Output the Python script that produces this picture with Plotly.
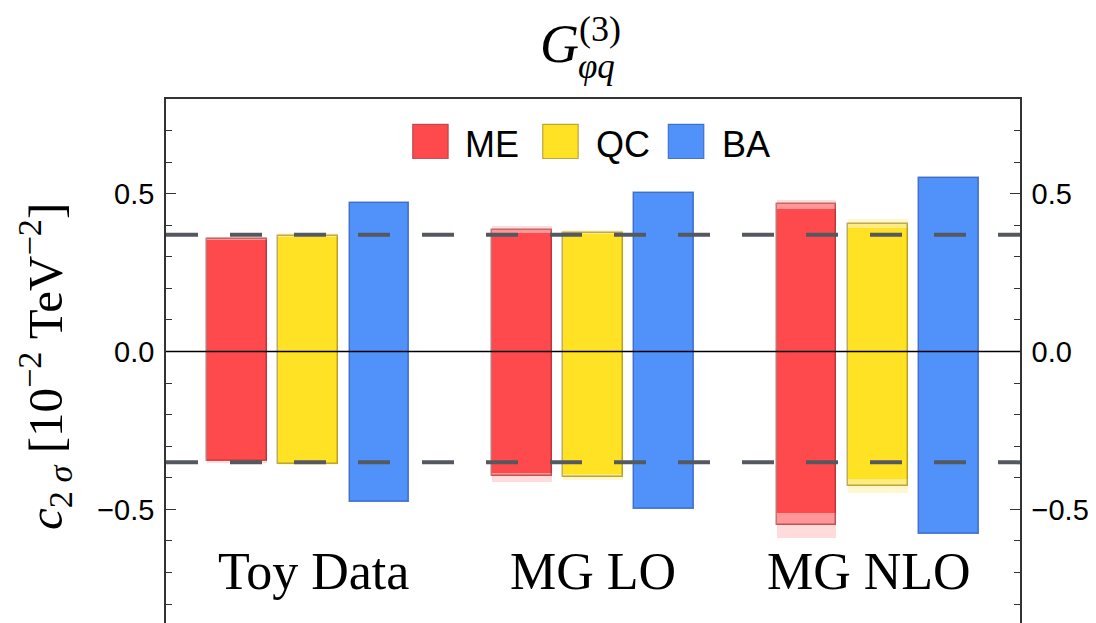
import plotly.graph_objects as go

# ---------------- data ----------------
categories = ["Toy Data", "MG LO", "MG NLO"]
methods = ["ME", "QC", "BA"]

# ME (red): inner / middle (outlined) / outer ranges
me_inner_hi = [0.352, 0.375, 0.453]
me_mid_hi   = [0.356, 0.385, 0.467]
me_outer_hi = [0.363, 0.398, 0.479]
me_inner_lo = [-0.345, -0.385, -0.510]
me_mid_lo   = [-0.348, -0.393, -0.549]
me_outer_lo = [-0.352, -0.412, -0.590]

# QC (yellow)
qc_inner_hi = [0.362, 0.372, 0.390]
qc_mid_hi   = [0.365, 0.377, 0.403]
qc_outer_hi = [0.374, 0.384, 0.421]
qc_inner_lo = [-0.352, -0.387, -0.403]
qc_mid_lo   = [-0.355, -0.398, -0.425]
qc_outer_lo = [-0.358, -0.406, -0.447]

# BA (blue)
ba_hi = [0.472, 0.502, 0.551]
ba_lo = [-0.477, -0.498, -0.578]

# reference (dashed) bounds
ref_hi = 0.370
ref_lo = -0.351

y_ticks = [-0.5, 0.0, 0.5]

# ---------------- styling ----------------
# the page body adds an 8px offset; figure is sized to fill the remaining window
OFF = 8
W, H = 1096 - OFF, 623 - OFF
# plot area in screen pixels
SL, SR, ST, SB = 166, 1020, 99, 623
PL, PR, PT, PB = SL - OFF, SR - OFF, ST - OFF, SB - OFF
def xp(sx): return (sx - SL) / (SR - SL)
def yp(sy): return (SB - sy) / (SB - ST)

offsets = {"ME": -0.25, "QC": 0.0, "BA": 0.25}
BW = 0.21

red = dict(full="rgb(255,74,77)", mid="rgb(255,150,152)", light="rgb(255,219,219)", edge="rgba(160,45,45,0.65)")
yel = dict(full="rgb(255,226,36)", mid="rgb(255,236,128)", light="rgb(255,247,205)", edge="rgba(150,128,25,0.65)")
blu = dict(full="rgb(80,145,250)", edge="rgba(40,90,185,0.75)")

fig = go.Figure()

def bar(xs, lo, hi, color, line_color=None, lw=0, yaxis="y"):
    fig.add_trace(go.Bar(
        x=xs, y=[h - l for h, l in zip(hi, lo)], base=lo, width=BW, yaxis=yaxis,
        marker=dict(color=color, line=dict(color=line_color or "rgba(0,0,0,0)", width=lw)),
        showlegend=False, hoverinfo="skip"))

idx = list(range(len(categories)))
for m, c, (ilo, ihi, mlo, mhi, olo, ohi) in [
        ("ME", red, (me_inner_lo, me_inner_hi, me_mid_lo, me_mid_hi, me_outer_lo, me_outer_hi)),
        ("QC", yel, (qc_inner_lo, qc_inner_hi, qc_mid_lo, qc_mid_hi, qc_outer_lo, qc_outer_hi))]:
    xs = [i + offsets[m] for i in idx]
    bar(xs, olo, ohi, c["light"])
    bar(xs, mlo, mhi, c["mid"])
    bar(xs, ilo, ihi, c["full"])
    bar(xs, mlo, mhi, "rgba(0,0,0,0)", c["edge"], 1.5)

xs = [i + offsets["BA"] for i in idx]
bar(xs, ba_lo, ba_hi, blu["full"], blu["edge"], 1.5, yaxis="y2")

shapes = []
for yv in (ref_hi, ref_lo):
    shapes.append(dict(type="line", xref="paper", yref="y", x0=0, x1=1, y0=yv, y1=yv,
                       line=dict(color="#54595f", width=4, dash="32px,32px"), layer="above"))
shapes.append(dict(type="line", xref="paper", yref="y", x0=0, x1=1, y0=0, y1=0,
                   line=dict(color="black", width=1.5), layer="above"))

annotations = []
# legend
leg = [("ME", red, 412.7, 463), ("QC", yel, 542.7, 593.5), ("BA", blu, 668.3, 719.5)]
for name, c, sx, tx in leg:
    shapes.append(dict(type="rect", xref="paper", yref="paper",
                       x0=xp(sx), x1=xp(sx + 35.5), y0=yp(158.5), y1=yp(124.3),
                       fillcolor=c["full"], line=dict(color=c["edge"], width=1.2), layer="above"))
    annotations.append(dict(text=name, xref="paper", yref="paper", x=xp(tx), y=yp(144),
                            xanchor="left", yanchor="middle", showarrow=False,
                            font=dict(family="Liberation Sans", size=36, color="black")))

# category labels
label_shift = [5, 0, -9]
for i, cat in enumerate(categories):
    annotations.append(dict(text=cat, xref="x", yref="paper", x=i, y=yp(571), xshift=label_shift[i],
                            xanchor="center", yanchor="middle", showarrow=False,
                            font=dict(family="Liberation Serif", size=52, color="black")))

# title G^{(3)}_{phi q}
annotations.append(dict(text="<i>G</i>", xref="paper", yref="paper", x=xp(538), y=yp(44),
                        xanchor="left", yanchor="middle", showarrow=False,
                        font=dict(family="Liberation Serif", size=54, color="black")))
annotations.append(dict(text="(3)", xref="paper", yref="paper", x=xp(577), y=yp(29),
                        xanchor="left", yanchor="middle", showarrow=False,
                        font=dict(family="Liberation Serif", size=36, color="black")))
annotations.append(dict(text="<i>φq</i>", xref="paper", yref="paper", x=xp(576), y=yp(66),
                        xanchor="left", yanchor="middle", showarrow=False,
                        font=dict(family="Liberation Serif", size=35, color="black")))

# y axis title
annotations.append(dict(text="<i>c</i><sub>2 <i>σ</i></sub> [10<sup>−2</sup> TeV<sup>−2</sup>]",
                        xref="paper", yref="paper", x=xp(44), y=yp(367), textangle=-90,
                        xanchor="center", yanchor="middle", showarrow=False,
                        font=dict(family="Liberation Serif", size=49, color="black")))

axis_common = dict(range=[-0.86, 0.8], tickvals=y_ticks, tickformat=".1f",
                   ticks="inside", ticklen=10, tickwidth=1.3, tickcolor="#333",
                   showline=True, linecolor="#333", linewidth=1.5, showgrid=False, zeroline=False,
                   tickfont=dict(family="Liberation Sans", size=29, color="black"),
                   ticklabelstandoff=4, automargin=False,
                   minor=dict(dtick=0.1, tick0=0, ticks="inside", ticklen=6, tickwidth=1.2,
                              tickcolor="#333", showgrid=False),
                   fixedrange=True)

fig.update_layout(
    width=W, height=H,
    margin=dict(l=PL, r=W - PR, t=PT, b=H - PB, autoexpand=False),
    paper_bgcolor="white", plot_bgcolor="white",
    barmode="overlay", bargap=0,
    xaxis=dict(range=[-0.5, 2.5], side="top", showline=True, linecolor="#333", linewidth=1.5,
               ticks="", showticklabels=False, showgrid=False, zeroline=False, fixedrange=True,
               automargin=False),
    yaxis=dict(side="left", **axis_common),
    yaxis2=dict(side="right", overlaying="y", anchor="x", **axis_common),
    shapes=shapes, annotations=annotations,
)

fig.write_html("out.html")
